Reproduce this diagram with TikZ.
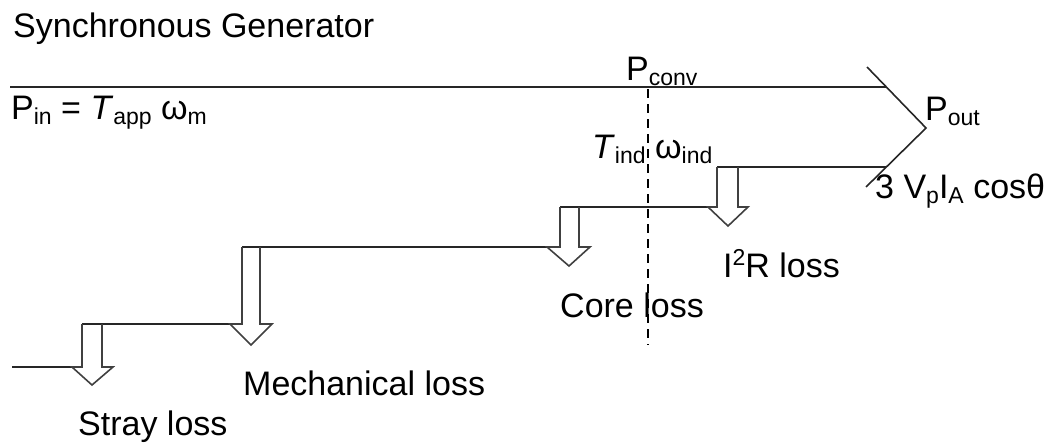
\documentclass[tikz,border=0pt]{standalone}
\usepackage{fontspec}
\setmainfont{Liberation Sans}
\newcommand\dn[1]{\raisebox{-5pt}{\fontsize{23}{23}\selectfont #1}}
\newcommand\up[1]{\raisebox{12pt}{\fontsize{23}{23}\selectfont #1}}
\begin{document}
\begin{tikzpicture}[x=1pt,y=-1pt,
  lbl/.style={inner sep=0pt, anchor=base west, font=\fontsize{34}{40}\selectfont},
  flow/.style={line width=1.6pt, draw=black!85, line join=miter},
  lossarrow/.style={line width=1.6pt, draw=black!75, line join=miter},
  divider/.style={line width=1.6pt, draw=black, dash pattern=on 9pt off 6pt}]
\useasboundingbox (0,0) rectangle (1054,447);

% labels
\node[lbl] (title) at (13,37) {Synchronous Generator};
\node[lbl] (pin) at (11,119) {P\dn{in} = \textit{T}\dn{app} ω\dn{m}};
\node[lbl] (pconv) at (626,80) {P\dn{conv}};
\node[lbl] (tind) at (592,158) {\textit{T}\dn{ind} ω\dn{ind}};
\node[lbl] (pout) at (925,120) {P\dn{out}};
\node[lbl] (vi) at (875,198) {3 V\dn{p}I\dn{A} cosθ};
\node[lbl] (i2r) at (723,277) {I\up{2}R loss};
\node[lbl] (core) at (560,317) {Core loss};
\node[lbl] (mech) at (243,395) {Mechanical loss};
\node[lbl] (stray) at (78,435) {Stray loss};

% key points
\coordinate (inTop) at (10,87);
\coordinate (outTop) at (886,87);
\coordinate (d1) at (867,67);
\coordinate (tip) at (926,128);
\coordinate (d2) at (866,187);
\coordinate (outBot) at (886,167);
\coordinate (inBot) at (12,367);

% I2R
\coordinate (iTL) at (717,167); \coordinate (iTR) at (738,167);
\coordinate (iBL) at (717,207); \coordinate (iBR) at (738,207);
\coordinate (iWL) at (708,207); \coordinate (iWR) at (748,207);
\coordinate (iTip) at (728,226);
% Core
\coordinate (cTL) at (560,207); \coordinate (cTR) at (579,207);
\coordinate (cBL) at (560,247); \coordinate (cBR) at (579,247);
\coordinate (cWL) at (547,247); \coordinate (cWR) at (590,247);
\coordinate (cTip) at (569,266);
% Mechanical
\coordinate (mTL) at (242,247); \coordinate (mTR) at (260,247);
\coordinate (mBL) at (242,324); \coordinate (mBR) at (260,324);
\coordinate (mWL) at (230,324); \coordinate (mWR) at (272,324);
\coordinate (mTip) at (251,345);
% Stray
\coordinate (sTL) at (82,324); \coordinate (sTR) at (102,324);
\coordinate (sBL) at (82,367); \coordinate (sBR) at (102,367);
\coordinate (sWL) at (72,367); \coordinate (sWR) at (113,367);
\coordinate (sTip) at (92,385);

% top boundary and output arrow head
\draw[flow] (inTop) -- (outTop);
\draw[flow] (d1) -- (tip) -- (d2);

% stepped bottom boundary
\draw[flow] (iTL) -- (outBot);
\draw[flow] (cTL) -- (iWL);
\draw[flow] (mTL) -- (cWL);
\draw[flow] (sTL) -- (mWL);
\draw[flow] (inBot) -- (sWL);

% loss arrows
\draw[lossarrow] (iTL) -- (iBL) -- (iWL) -- (iTip) -- (iWR) -- (iBR) -- (iTR);
\draw[lossarrow] (cTL) -- (cBL) -- (cWL) -- (cTip) -- (cWR) -- (cBR) -- (cTR);
\draw[lossarrow] (mTL) -- (mBL) -- (mWL) -- (mTip) -- (mWR) -- (mBR) -- (mTR);
\draw[lossarrow] (sTL) -- (sBL) -- (sWL) -- (sTip) -- (sWR) -- (sBR) -- (sTR);

% P_conv divider
\coordinate (divTop) at (648,89);
\coordinate (divBot) at (648,345);
\draw[divider] (divTop) -- (divBot);
\end{tikzpicture}
\end{document}
